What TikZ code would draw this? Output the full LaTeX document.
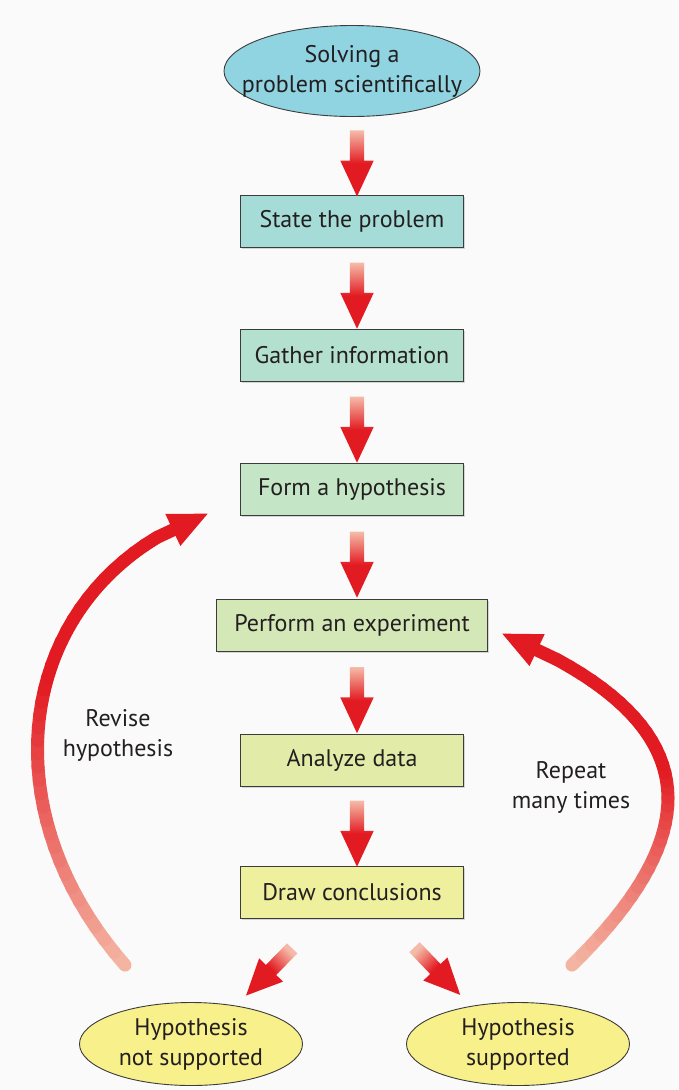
\documentclass[tikz,border=0pt]{standalone}
\usepackage{fontspec}
\setmainfont{PT Sans}
\usepackage{tikz}
\usetikzlibrary{calc,shapes.geometric,shapes.arrows,shadows,arrows.meta}

\definecolor{lineg}{HTML}{3C3C3C}
\definecolor{inkc}{HTML}{231F20}
\definecolor{skyc}{HTML}{8FD4E0}
\definecolor{fillA}{HTML}{A6DCD7}
\definecolor{fillB}{HTML}{B4E0CF}
\definecolor{fillC}{HTML}{C5E6C6}
\definecolor{fillD}{HTML}{D4E8B7}
\definecolor{fillE}{HTML}{E2ECA8}
\definecolor{fillF}{HTML}{EEF09E}
\definecolor{lemon}{HTML}{F7F08B}
\definecolor{arrowred}{HTML}{E21B22}
\definecolor{arrowpale}{HTML}{F5BBA8}
\definecolor{paper}{HTML}{FAFAFA}

\newcommand{\bigfont}{\fontsize{24}{30}\selectfont}

\tikzstyle{block} = [rectangle, draw=lineg, line width=0.9pt, text centered, minimum width=223pt, minimum height=52pt, font=\bigfont, text=inkc, drop shadow={shadow xshift=1.5pt, shadow yshift=-1.5pt, fill=black!30}]
\tikzstyle{oval} = [ellipse, draw=lineg, line width=0.9pt, align=center, inner xsep=-30pt, inner ysep=-12pt, font=\bigfont, text=inkc]
\tikzstyle{fat} = [single arrow, draw=none, minimum height=66pt, inner xsep=0pt, inner ysep=7pt, single arrow head extend=9.5pt, single arrow tip angle=50, top color=arrowpale, bottom color=arrowred, middle color=arrowred, sloped, allow upside down]
\tikzstyle{note} = [align=center, font=\bigfont, text=inkc]

% curved arrow that fades from pale to red: name, start, control 1, control 2, end
\newcommand{\bentarrow}[5]{%
  \foreach \kk in {0,...,36}
    \path (#2) .. controls #3 and #4 .. (#5) coordinate[pos=\kk/40] (#1\kk);
  \foreach \kk [evaluate=\kk as \kp using {int(\kk-1)}, evaluate=\kk as \mix using {min(100,\kk*4.5)}] in {1,...,36}
    \draw [line width=13pt, line cap=round, arrowred!\mix!arrowpale] (#1\kp) -- (#1\kk);
  \draw [line width=13pt, arrowred, -{Triangle[width=32pt, length=40pt]}] (#136) -- (#5);
}

\begin{document}
\begin{tikzpicture}[x=1pt, y=-1pt, node distance=134pt]
    \fill [paper] (0,0) rectangle (678,1090);
    \useasboundingbox (0,0) rectangle (678,1090);

    \node [oval, fill=skyc, minimum width=256pt, minimum height=91pt] (start) at (352,71) {Solving a\\problem scientifically};
    \node [block, fill=fillA, below of=start, node distance=150pt] (state) {State the problem};
    \node [block, fill=fillB, below of=state] (gather) {Gather information};
    \node [block, fill=fillC, below of=gather] (hypo) {Form a hypothesis};
    \node [block, fill=fillD, below of=hypo, minimum width=271pt, node distance=136pt] (exper) {Perform an experiment};
    \node [block, fill=fillE, below of=exper, node distance=135pt] (analyze) {Analyze data};
    \node [block, fill=fillF, below of=analyze, node distance=132pt] (concl) {Draw conclusions};
    \node [oval, fill=lemon, minimum width=223pt, minimum height=83pt, below of=concl, xshift=-161pt, node distance=152pt] (notsup) {Hypothesis\\not supported};
    \node [oval, fill=lemon, minimum width=223pt, minimum height=83pt, below of=concl, xshift=166pt, node distance=152pt] (sup) {Hypothesis\\supported};

    \node [note] (revise) at (118,735) {Revise\\hypothesis};
    \node [note] (repeat) at (571,787) {Repeat\\many times};

    \path ([xshift=5pt]start.south) -- node [fat] {} ([xshift=5pt]state.north);
    \path ([xshift=5pt]state.south) -- node [fat] {} ([xshift=5pt]gather.north);
    \path ([xshift=5pt]gather.south) -- node [fat] {} ([xshift=5pt]hypo.north);
    \path ([xshift=5pt]hypo.south) -- node [fat] {} ([xshift=5pt]exper.north);
    \path ([xshift=5pt]exper.south) -- node [fat] {} ([xshift=5pt]analyze.north);
    \path ([xshift=5pt]analyze.south) -- node [fat] {} ([xshift=5pt]concl.north);

    \coordinate (nofrom) at ($(concl.south)+(-55,25)$);
    \coordinate (noto) at ($(concl.south)+(-100,71)$);
    \coordinate (yesfrom) at ($(concl.south)+(57,23)$);
    \coordinate (yesto) at ($(concl.south)+(103,71)$);
    \path (nofrom) -- node [fat, shading angle=-45] {} (noto);
    \path (yesfrom) -- node [fat, shading angle=45] {} (yesto);

    \coordinate (revlow) at ($(notsup.north)+(-66,-37)$);
    \coordinate (revtop) at ($(hypo.west)+(-31,24)$);
    \bentarrow{rv}{revlow}{(-20,800)}{(20,580)}{revtop}
    \coordinate (replow) at ($(sup.north)+(54,-37)$);
    \coordinate (reptop) at ($(exper.east)+(13,8)$);
    \bentarrow{rp}{replow}{(710,830)}{(710,720)}{reptop}
\end{tikzpicture}
\end{document}
